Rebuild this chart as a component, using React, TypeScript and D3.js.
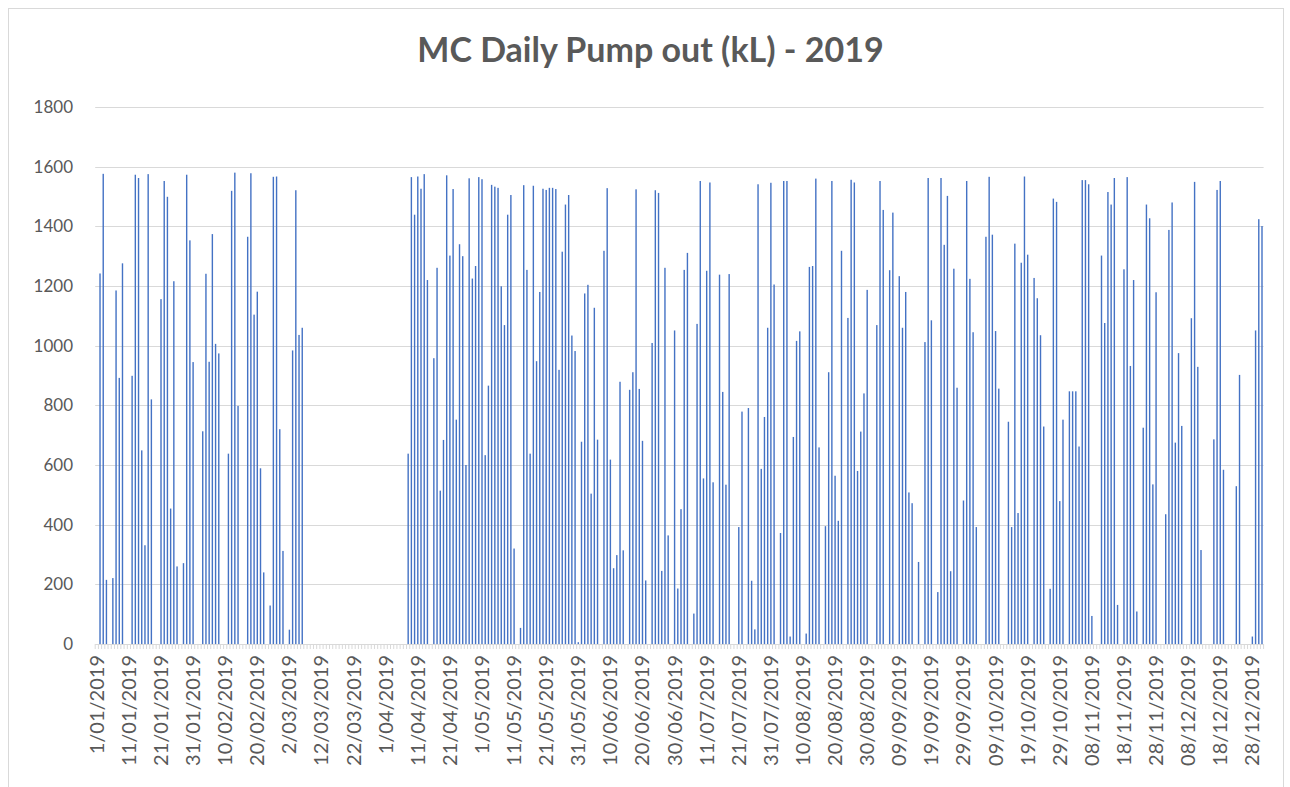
import React from 'react';
import * as d3 from 'd3';

// Categories: daily dates of 2019 (the source sheet skips 1/07 and switches to zero-padded day after June)
const fmtShort = d3.timeFormat('%-d/%m/%Y');
const fmtPadded = d3.timeFormat('%d/%m/%Y');
const firstHalfDates = d3.timeDay.range(new Date(2019, 0, 1), new Date(2019, 6, 1));
const secondHalfDates = d3.timeDay.range(new Date(2019, 6, 2), new Date(2020, 0, 1));
const categories: string[] = [
  ...firstHalfDates.map((d) => fmtShort(d)),
  ...secondHalfDates.map((d) => fmtPadded(d)),
];

// Daily pump out (kL), one value per category
const pumpOut: number[] = [
  0,
  1242, 1576, 215, 0, 221, 1185, 892, 1276, 0, 0,
  899, 1573, 1562, 649, 331, 1575, 820, 0, 0, 1156,
  1552, 1499, 454, 1216, 260, 0, 271, 1573, 1353, 945,
  0, 0, 713, 1241, 946, 1374, 1006, 974, 0, 0,
  638, 1519, 1580, 798, 0, 0, 1365, 1578, 1104, 1181,
  589, 240, 0, 129, 1566, 1567, 720, 312, 0, 48,
  984, 1521, 1036, 1060, 0, 0, 0, 0, 0, 0,
  0, 0, 0, 0, 0, 0, 0, 0, 0, 0,
  0, 0, 0, 0, 0, 0, 0, 0, 0, 0,
  0, 0, 0, 0, 0, 0, 638, 1565, 1439, 1567,
  1526, 1575, 1220, 0, 958, 1261, 514, 684, 1571, 1302,
  1525, 752, 1340, 1300, 600, 1561, 1225, 1267, 1565, 1558,
  633, 866, 1539, 1533, 1529, 1199, 1069, 1439, 1505, 320,
  0, 54, 1538, 1254, 638, 1536, 948, 1180, 1526, 1522,
  1529, 1529, 1525, 919, 1315, 1473, 1505, 1034, 982, 6,
  678, 1175, 1204, 504, 1127, 685, 0, 1318, 1528, 618,
  254, 298, 879, 314, 0, 852, 911, 1524, 855, 681,
  213, 0, 1009, 1521, 1512, 245, 1261, 364, 0, 1051,
  186, 452, 1254, 1311, 0, 102, 1073, 1552, 555, 1251,
  1547, 542, 0, 1238, 845, 534, 1240, 0, 0, 392,
  779, 0, 791, 212, 49, 1541, 587, 761, 1060, 1546,
  1205, 0, 372, 1552, 1552, 25, 694, 1016, 1048, 0,
  35, 1264, 1267, 1560, 659, 0, 395, 911, 1552, 564,
  413, 1318, 0, 1093, 1556, 1547, 580, 712, 840, 1187,
  0, 0, 1069, 1552, 1455, 0, 1253, 1446, 0, 1233,
  1060, 1180, 508, 472, 0, 275, 0, 1012, 1562, 1085,
  0, 174, 1562, 1338, 1502, 244, 1258, 859, 0, 481,
  1552, 1224, 1045, 392, 0, 0, 1365, 1566, 1372, 1049,
  856, 0, 0, 745, 392, 1342, 439, 1278, 1567, 1305,
  0, 1227, 1159, 1035, 729, 0, 185, 1493, 1482, 479,
  752, 0, 847, 847, 847, 662, 1555, 1555, 1541, 94,
  0, 0, 1302, 1076, 1515, 1473, 1562, 131, 0, 1256,
  1565, 932, 1220, 109, 0, 725, 1473, 1427, 535, 1179,
  0, 0, 435, 1388, 1480, 675, 975, 731, 0, 0,
  1092, 1549, 929, 315, 0, 0, 0, 686, 1522, 1552,
  584, 0, 0, 0, 529, 902, 0, 0, 0, 25,
  1051, 1424, 1401,
];

const yTicks: number[] = [0, 200, 400, 600, 800, 1000, 1200, 1400, 1600, 1800];
const labelEvery = 10;
const title = 'MC Daily Pump out (kL) - 2019';

const W = 1290;
const H = 787;
const FONT = "Lato, 'Liberation Sans', sans-serif";
const TEXT = '#595959';
const GRID = '#d9d9d9';
const BAR = '#4472C4';

export default function App() {
  const idx = d3.range(categories.length);
  const x = d3.scaleBand<number>().domain(idx).range([95.2, 1263.6]).padding(0);
  const y = d3.scaleLinear().domain([0, 1800]).range([644, 107]);
  const bw = 1.4;
  const [x0, x1] = x.range();

  return (
    <div style={{ position: 'fixed', left: 0, top: 0 }}>
      <svg width={W} height={H} style={{ display: 'block', background: '#fff' }}>
        <rect x={0} y={0} width={W} height={H} fill="#fff" />
        <rect x={8.5} y={8.5} width={1275} height={830} fill="none" stroke={GRID} strokeWidth={1} />
        <text x={650.5} y={62} textAnchor="middle" fontFamily={FONT} fontWeight={700} fontSize={34} fill={TEXT}>
          {title}
        </text>
        {yTicks.map((t) => (
          <line key={'g' + t} x1={x0} x2={x1} y1={Math.round(y(t)) + 0.5} y2={Math.round(y(t)) + 0.5} stroke={GRID} strokeWidth={1} />
        ))}
        {idx.map((i) => (
          <line key={'t' + i} x1={x(i)!} x2={x(i)!} y1={644} y2={649} stroke={GRID} strokeWidth={1} />
        ))}
        <line x1={x1} x2={x1} y1={644} y2={649} stroke={GRID} strokeWidth={1} />
        {pumpOut.map((v, i) =>
          v > 0 ? (
            <rect
              key={'b' + i}
              x={x(i)! + x.bandwidth() / 2 - bw / 2}
              y={y(v)}
              width={bw}
              height={y(0) - y(v)}
              fill={BAR}
            />
          ) : null
        )}
        {yTicks.map((t) => (
          <text key={'y' + t} x={73} y={y(t)} dy="0.35em" textAnchor="end" fontFamily={FONT} fontSize={17} fill={TEXT}>
            {t}
          </text>
        ))}
        {idx
          .filter((i) => i % labelEvery === 0)
          .map((i) => (
            <text
              key={'x' + i}
              transform={`translate(${x(i)! + x.bandwidth() / 2},655) rotate(-90)`}
              dy="0.35em"
              textAnchor="end"
              fontFamily={FONT}
              fontSize={20}
              fill={TEXT}
            >
              {categories[i]}
            </text>
          ))}
      </svg>
    </div>
  );
}
